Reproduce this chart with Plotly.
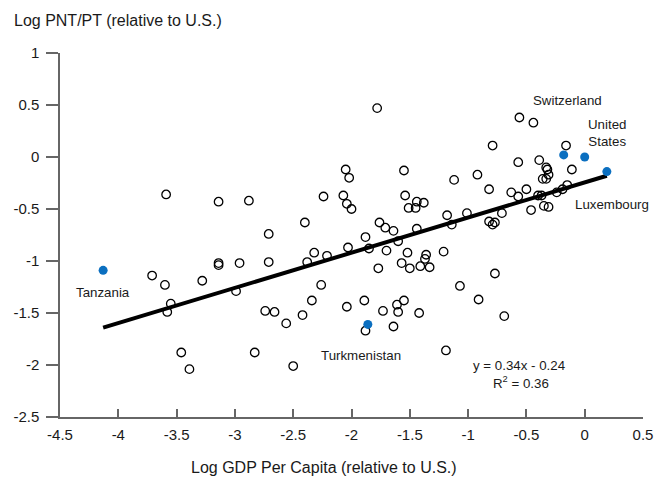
import plotly.graph_objects as go

# Other countries (open circles)
gdp = [-3.71, -3.60, -3.55, -3.58, -3.46, -3.39, -3.28, -3.14, -3.14, -2.96,
       -2.99, -2.83, -2.74, -2.66, -2.71, -2.56, -2.50, -2.42, -2.34, -2.26,
       -2.38, -2.32, -2.21, -3.59, -3.14, -2.88, -2.71, -2.40, -2.24, -1.78,
       -2.05, -2.02, -1.55, -2.07, -2.04, -2.00, -1.54, -1.51, -1.44, -1.38,
       -1.45, -1.76, -1.71, -1.64, -1.44, -1.88, -2.03, -1.85, -1.70, -1.60,
       -1.52, -1.36, -1.37, -1.21, -1.77, -1.57, -1.50, -1.41, -1.33, -2.04,
       -1.89, -1.73, -1.61, -1.60, -1.55, -1.42, -1.88, -1.64, -1.19, -0.77,
       -1.07, -0.91, -0.69, -1.12, -0.92, -0.79, -0.56, -0.44, -0.16, -0.57,
       -0.39, -0.33, -0.32, -0.31, -0.33, -0.36, -0.11, -0.82, -0.63, -0.57,
       -0.50, -0.40, -0.37, -0.24, -0.19, -0.15, -0.46, -0.35, -0.31, -1.18,
       -1.14, -1.01, -0.71, -0.82, -0.79, -0.77]
pnt = [-1.14, -1.23, -1.41, -1.49, -1.88, -2.04, -1.19, -1.02, -1.04, -1.02,
       -1.29, -1.88, -1.48, -1.49, -1.01, -1.60, -2.01, -1.52, -1.38, -1.23,
       -1.01, -0.92, -0.95, -0.36, -0.43, -0.42, -0.74, -0.63, -0.38, 0.47,
       -0.12, -0.20, -0.13, -0.37, -0.45, -0.50, -0.37, -0.49, -0.43, -0.44,
       -0.49, -0.63, -0.68, -0.71, -0.69, -0.77, -0.87, -0.88, -0.90, -0.81,
       -0.92, -0.94, -0.98, -0.91, -1.07, -1.02, -1.07, -1.05, -1.06, -1.44,
       -1.38, -1.48, -1.42, -1.49, -1.38, -1.50, -1.67, -1.63, -1.86, -1.12,
       -1.24, -1.37, -1.53, -0.22, -0.17, 0.11, 0.38, 0.33, 0.11, -0.05,
       -0.03, -0.10, -0.12, -0.17, -0.21, -0.21, -0.12, -0.31, -0.34, -0.38,
       -0.31, -0.37, -0.37, -0.34, -0.31, -0.27, -0.51, -0.47, -0.48, -0.56,
       -0.65, -0.54, -0.54, -0.62, -0.65, -0.63]

# Highlighted countries
hl_names = ["Tanzania", "Turkmenistan", "Switzerland", "United States", "Luxembourg"]
hl_gdp = [-4.13, -1.86, -0.18, 0.00, 0.19]
hl_pnt = [-1.09, -1.61, 0.02, 0.00, -0.14]

# Fitted line endpoints (y = 0.34x - 0.24)
trend_x = [-4.13, 0.19]
trend_y = [-1.64, -0.18]

x_ticks = [-4.5, -4, -3.5, -3, -2.5, -2, -1.5, -1, -0.5, 0, 0.5]
x_ticktext = ["-4.5", "-4", "-3.5", "-3", "-2.5", "-2", "-1.5", "-1", "-0.5", "0", "0.5"]
y_ticks = [-2.5, -2, -1.5, -1, -0.5, 0, 0.5, 1]
y_ticktext = ["-2.5", "-2", "-1.5", "-1", "-0.5", "0", "0.5", "1"]

FONT = "Arial, Liberation Sans, sans-serif"
TXT = "#1a1a1a"

fig = go.Figure()
fig.add_trace(go.Scatter(
    x=gdp, y=pnt, mode="markers",
    marker=dict(symbol="circle-open", size=8.5, color="black", line=dict(width=1.3, color="black")),
    showlegend=False, hoverinfo="x+y"))
fig.add_trace(go.Scatter(
    x=trend_x, y=trend_y, mode="lines",
    line=dict(color="black", width=4), showlegend=False))
fig.add_trace(go.Scatter(
    x=hl_gdp, y=hl_pnt, mode="markers", text=hl_names,
    marker=dict(symbol="circle", size=9, color="#0b6fc0"),
    showlegend=False, hoverinfo="text"))

ann = [
    dict(x=-0.148, y=0.545, text="Switzerland"),
    dict(x=0.195, y=0.227, text="United<br>States"),
    dict(x=0.238, y=-0.455, text="Luxembourg"),
    dict(x=-4.13, y=-1.30, text="Tanzania"),
    dict(x=-1.916, y=-1.907, text="Turkmenistan"),
    dict(x=-0.56, y=-2.003, text="y = 0.34x - 0.24"),
    dict(x=-0.545, y=-2.166, text="R<sup>2</sup> = 0.36"),
]
for a in ann:
    fig.add_annotation(x=a["x"], y=a["y"], xref="x", yref="y", text=a["text"],
                       showarrow=False, font=dict(family=FONT, size=13.3, color=TXT),
                       xanchor="center", yanchor="middle")

# Axis titles
fig.add_annotation(x=-0.0824, y=1.09, xref="paper", yref="paper", xanchor="left", yanchor="middle",
                   text="Log PNT/PT (relative to U.S.)", showarrow=False,
                   font=dict(family=FONT, size=16, color=TXT))
fig.add_annotation(x=0.453, y=-0.140, xref="paper", yref="paper", xanchor="center", yanchor="middle",
                   text="Log GDP Per Capita (relative to U.S.)", showarrow=False,
                   font=dict(family=FONT, size=16, color=TXT))

fig.update_layout(
    width=659, height=477,
    margin=dict(l=60, r=16, t=53, b=60, autoexpand=False),
    paper_bgcolor="white", plot_bgcolor="white",
    font=dict(family=FONT, size=15, color=TXT),
    xaxis=dict(range=[-4.5, 0.5], tickvals=x_ticks, ticktext=x_ticktext,
               showgrid=False, zeroline=False, showline=True, linecolor="#666", linewidth=1.5,
               ticks="inside", ticklen=8, tickcolor="#666", tickwidth=1.5,
               ticklabelstandoff=3, automargin=False),
    yaxis=dict(range=[-2.5, 1], tickvals=y_ticks, ticktext=y_ticktext,
               showgrid=False, zeroline=False, showline=True, linecolor="#666", linewidth=1.5,
               ticks="outside", ticklen=12, tickcolor="#666", tickwidth=1.5,
               ticklabelstandoff=4, automargin=False),
)

fig.write_html("out.html")
